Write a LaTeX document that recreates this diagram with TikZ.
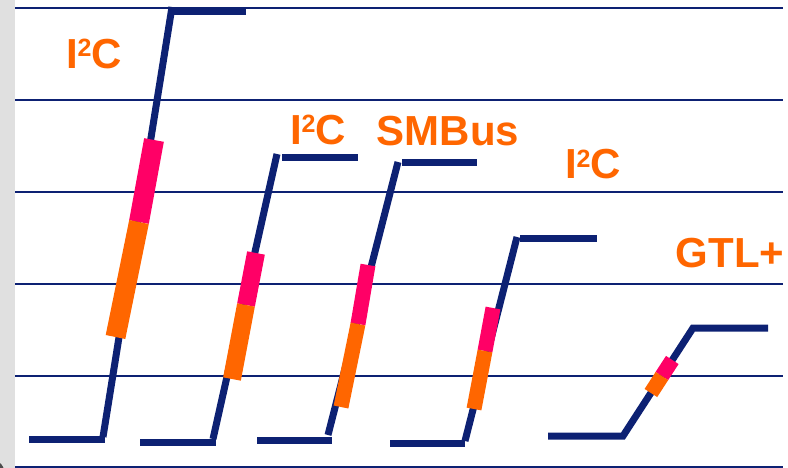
\documentclass[tikz,border=0pt]{standalone}
\usepackage{xcolor}
\usepackage{fontspec}
\setmainfont{Liberation Sans}
\usepackage{tikz}

\definecolor{navy}{RGB}{13,33,115}
\definecolor{hotpink}{RGB}{255,0,102}
\definecolor{busorange}{RGB}{255,102,0}
\definecolor{stripgrey}{RGB}{224,224,224}

\newcommand{\Itwo}{I\raisebox{12pt}{\fontsize{25}{25}\selectfont 2}C}

\begin{document}
\begin{tikzpicture}[x=1pt,y=-1pt,
        gridline/.style={navy,line width=2.5pt},
        wave/.style={navy,line width=7pt},
        pinkbar/.style={hotpink,line width=#1},
        orangebar/.style={busorange,line width=#1},
        busname/.style={busorange,inner sep=0pt,anchor=base,
            font=\fontsize{42}{48}\selectfont\bfseries}]
        \useasboundingbox (0,0) rectangle (788,468);
        \fill[stripgrey] (0,0) rectangle (15,468);
        \begin{scope}
            \clip (0,0) rectangle (15,468);
            \fill[black!70] (-6,471) circle (10);
        \end{scope}

        \draw[gridline] (15,8) -- (783,8);
        \draw[gridline] (15,100) -- (783,100);
        \draw[gridline] (15,192) -- (783,192);
        \draw[gridline] (15,284) -- (783,284);
        \draw[gridline] (15,376) -- (783,376);
        \draw[gridline,line width=1.5pt] (15,467) -- (783,467);

        \coordinate (a1) at (29,439);
        \coordinate (a2) at (105,439);
        \coordinate (a3) at (103,437);
        \coordinate (a4) at (172,7);
        \coordinate (a5) at (172,11.5);
        \coordinate (a6) at (246,11.5);
        \draw[wave] (a1) -- (a2);
        \draw[wave] (a3) -- (a4);
        \draw[wave] (a5) -- (a6);
        \draw[pinkbar=20pt] (154,140) -- (139,222);
        \draw[orangebar=20pt] (139,222) -- (115.5,337);

        \coordinate (b1) at (140,442);
        \coordinate (b2) at (216,442);
        \coordinate (b3) at (213,439);
        \coordinate (b4) at (277,154);
        \coordinate (b5) at (282,158);
        \coordinate (b6) at (358,158);
        \draw[wave] (b1) -- (b2);
        \draw[wave] (b3) -- (b4);
        \draw[wave] (b5) -- (b6);
        \draw[pinkbar=18pt] (256,253) -- (246,305);
        \draw[orangebar=18pt] (246,305) -- (232,379);

        \coordinate (c1) at (257,440);
        \coordinate (c2) at (332,440);
        \coordinate (c3) at (328,435);
        \coordinate (c4) at (398,162);
        \coordinate (c5) at (402,163);
        \coordinate (c6) at (477,163);
        \draw[wave] (c1) -- (c2);
        \draw[wave] (c3) -- (c4);
        \draw[wave] (c5) -- (c6);
        \draw[pinkbar=15pt] (368,265) -- (358,324);
        \draw[orangebar=15pt] (358,324) -- (341,407);

        \coordinate (d1) at (390,443);
        \coordinate (d2) at (465,443);
        \coordinate (d3) at (465,441);
        \coordinate (d4) at (517,237);
        \coordinate (d5) at (520,239);
        \coordinate (d6) at (597,239);
        \draw[wave] (d1) -- (d2);
        \draw[wave] (d3) -- (d4);
        \draw[wave] (d5) -- (d6);
        \draw[pinkbar=15pt] (493,308) -- (485,351);
        \draw[orangebar=15pt] (485,351) -- (474,409);

        \coordinate (e1) at (548,436);
        \coordinate (e2) at (623,436);
        \coordinate (e3) at (693,328);
        \coordinate (e4) at (768,328);
        \draw[wave] (e1) -- (e2) -- (e3) -- (e4);
        \draw[pinkbar=15pt] (672.3,360) -- (661.9,376);
        \draw[orangebar=15pt] (661.9,376) -- (650.9,393);

        \node[busname] (la) at (94,69) {\Itwo};
        \node[busname] (lb) at (318,145) {\Itwo};
        \node[busname] (lc) at (448,146) {SMBus};
        \node[busname] (ld) at (593,179) {\Itwo};
        \node[busname] (le) at (730,268) {GTL+};
    \end{tikzpicture}
\end{document}
